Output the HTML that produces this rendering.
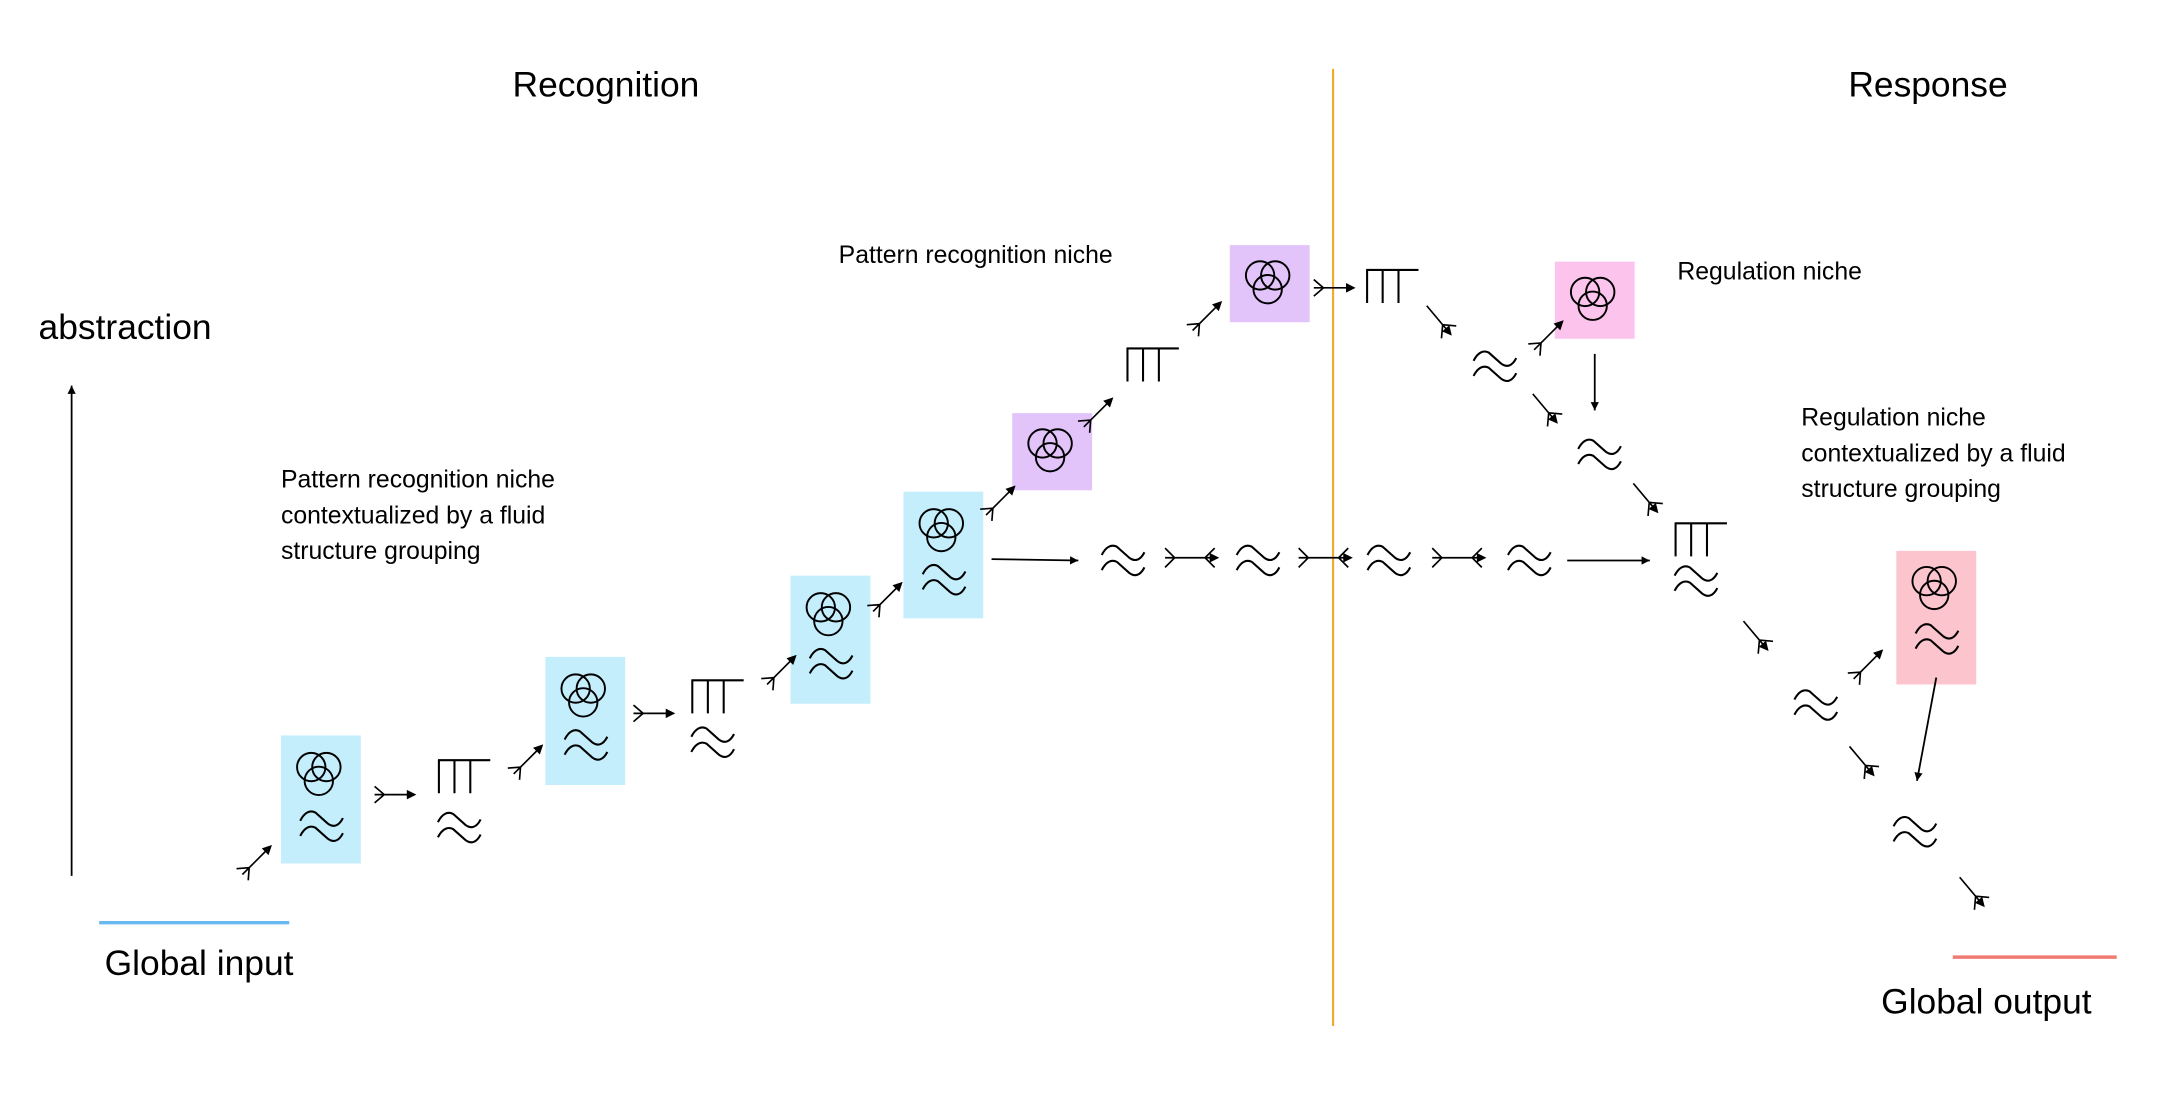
<!DOCTYPE html>
<html><head><meta charset="utf-8"><style>
html,body{margin:0;padding:0;background:#fff;}
svg{display:block;}
text{font-family:"Liberation Sans",sans-serif;fill:#000;}
</style></head><body>
<svg width="2158" height="1098" viewBox="0 0 1567 797.3" xmlns="http://www.w3.org/2000/svg">
<defs>
<g id="venn" fill="none" stroke="#000" stroke-width="1.4">
<circle cx="0" cy="0" r="10.3"/><circle cx="11" cy="0" r="10.3"/><circle cx="5.5" cy="10" r="10.3"/>
</g>
<g id="wv" fill="none" stroke="#000" stroke-width="1.5">
<path d="M0,8 C3,2 7,0 11,2 L20,10 C24,13 28,12 31,6"/>
<path d="M0,19 C3,13 7,11 11,13 L20,21 C24,24 28,23 31,17"/>
</g>
<g id="comb" fill="none" stroke="#000" stroke-width="1.5">
<path d="M0,0 H38 M0.7,0 V24 M12,0 V24 M23.5,0 V24"/>
</g>
<g id="ft" fill="none" stroke="#000" stroke-width="1.2">
<path d="M0,0 H25 M0,-6 L7,0 L0,6 M7,0 L10,0"/>
<path d="M29,0 L24,-2.5 L24,2.5 Z" fill="#000"/>
</g>
<g id="ftd" fill="none" stroke="#000" stroke-width="1.2">
<path d="M0,0 H25 M18,0 L25,-7 M18,0 L25,7"/>
<path d="M27,0 L22,-2.5 L22,2.5 Z" fill="#000"/>
</g>
<g id="dft" fill="none" stroke="#000" stroke-width="1.2">
<path d="M0,0 H34 M0,-7 L7,0 L0,7 M36,-7 L29,0 L36,7"/>
<path d="M38,0 L33,-2.5 L33,2.5 Z" fill="#000"/>
</g>
<marker id="ah" markerWidth="8" markerHeight="8" refX="6" refY="3" orient="auto" markerUnits="userSpaceOnUse"><path d="M0,0 L6,3 L0,6 Z" fill="#000"/></marker>
</defs>

<text x="440" y="70" font-size="25.7" text-anchor="middle">Recognition</text>
<text x="1400" y="70" font-size="25.7" text-anchor="middle">Response</text>
<line x1="968" y1="50" x2="968" y2="745" stroke="#f5a623" stroke-width="1.5"/>
<text x="28" y="246" font-size="25.7">abstraction</text>
<line x1="52" y1="636" x2="52" y2="280" stroke="#000" stroke-width="1.3" marker-end="url(#ah)"/>
<line x1="72" y1="670" x2="210" y2="670" stroke="#6ab8f0" stroke-width="2.5"/>
<text x="76" y="708" font-size="25.7">Global input</text>
<line x1="1418" y1="695" x2="1537" y2="695" stroke="#f07b72" stroke-width="2.5"/>
<text x="1366" y="736" font-size="25.7">Global output</text>

<g font-size="18">
<text x="204" y="354">Pattern recognition niche</text>
<text x="204" y="380">contextualized by a fluid</text>
<text x="204" y="406">structure grouping</text>
<text x="609" y="191">Pattern recognition niche</text>
<text x="1218" y="203">Regulation niche</text>
<text x="1308" y="309">Regulation niche</text>
<text x="1308" y="335">contextualized by a fluid</text>
<text x="1308" y="361">structure grouping</text>
</g>

<g>
<rect x="204" y="534" width="58" height="93" fill="#c4eefc"/>
<use href="#venn" x="226" y="557"/><use href="#wv" x="218" y="588"/>
<rect x="396" y="477" width="58" height="93" fill="#c4eefc"/>
<use href="#venn" x="418" y="500"/><use href="#wv" x="410" y="529"/>
<rect x="574" y="418" width="58" height="93" fill="#c4eefc"/>
<use href="#venn" x="596" y="441"/><use href="#wv" x="588" y="470"/>
<rect x="656" y="357" width="58" height="92" fill="#c4eefc"/>
<use href="#venn" x="678" y="380"/><use href="#wv" x="670" y="409"/>
<rect x="735" y="300" width="58" height="56" fill="#e2c4fa"/>
<use href="#venn" x="757" y="322"/>
<rect x="893" y="178" width="58" height="56" fill="#e2c4fa"/>
<use href="#venn" x="915" y="200"/>
<rect x="1129" y="190" width="58" height="56" fill="#fcc4ec"/>
<use href="#venn" x="1151" y="212"/>
<rect x="1377" y="400" width="58" height="97" fill="#fcc4cc"/>
<use href="#venn" x="1399" y="422"/><use href="#wv" x="1391" y="452"/>
</g>

<use href="#comb" x="318" y="552"/><use href="#wv" x="318" y="589"/>
<use href="#comb" x="502" y="494"/><use href="#wv" x="502" y="527"/>
<use href="#comb" x="818" y="253"/>
<use href="#comb" x="992" y="196"/>
<use href="#wv" x="1070" y="254"/>
<use href="#wv" x="1146" y="318"/>
<use href="#comb" x="1216" y="380"/><use href="#wv" x="1216" y="410"/>
<use href="#wv" x="1303" y="500"/>
<use href="#wv" x="1375" y="592"/>

<line x1="720" y1="406" x2="783" y2="407" stroke="#000" stroke-width="1.3" marker-end="url(#ah)"/>
<use href="#wv" x="800" y="395"/>
<use href="#dft" x="846" y="405"/>
<use href="#wv" x="898" y="395"/>
<use href="#dft" x="943" y="405"/>
<use href="#wv" x="993" y="395"/>
<use href="#dft" x="1040" y="405"/>
<use href="#wv" x="1095" y="395"/>
<line x1="1138" y1="407" x2="1198" y2="407" stroke="#000" stroke-width="1.3" marker-end="url(#ah)"/>

<use href="#ft" transform="translate(176,635) rotate(-45)"/>
<use href="#ft" transform="translate(272,577)"/>
<use href="#ft" transform="translate(373,562) rotate(-45)"/>
<use href="#ft" transform="translate(460,518)"/>
<use href="#ft" transform="translate(557,497) rotate(-45)"/>
<use href="#ft" transform="translate(634,444) rotate(-45)"/>
<use href="#ft" transform="translate(716,374) rotate(-45)"/>
<use href="#ft" transform="translate(787,310) rotate(-45)"/>
<use href="#ft" transform="translate(866,240) rotate(-45)"/>
<use href="#ft" transform="translate(954,209)"/>
<use href="#ftd" transform="translate(1036,222) rotate(50)"/>
<use href="#ft" transform="translate(1114,254) rotate(-45)"/>
<use href="#ftd" transform="translate(1113,286) rotate(50)"/>
<use href="#ftd" transform="translate(1186,351) rotate(50)"/>
<use href="#ftd" transform="translate(1266,451) rotate(50)"/>
<use href="#ft" transform="translate(1346,493) rotate(-45)"/>
<use href="#ftd" transform="translate(1343,542) rotate(50)"/>
<use href="#ftd" transform="translate(1423,637) rotate(50)"/>

<line x1="1158" y1="257" x2="1158" y2="298" stroke="#000" stroke-width="1.3" marker-end="url(#ah)"/>
<line x1="1406" y1="492" x2="1392" y2="567" stroke="#000" stroke-width="1.3" marker-end="url(#ah)"/>
</svg>
</body></html>
